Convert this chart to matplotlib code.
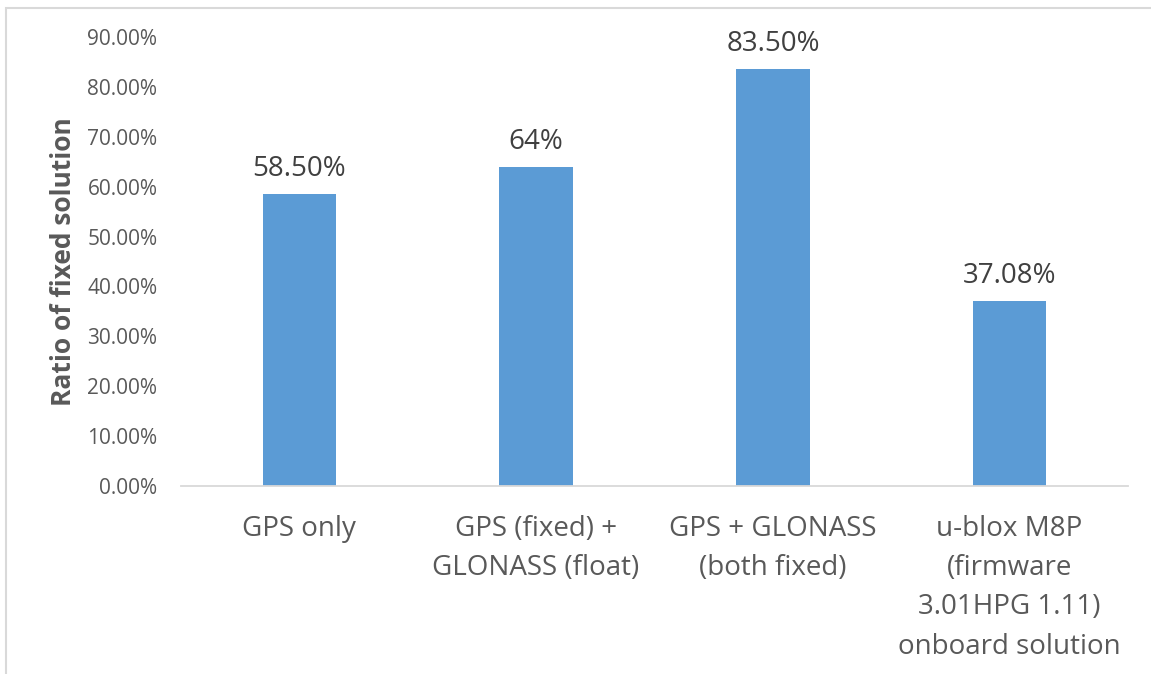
import matplotlib
matplotlib.use("Agg")
import matplotlib.pyplot as plt
from matplotlib.patches import Rectangle

categories = [
    "GPS only",
    "GPS (fixed) +\nGLONASS (float)",
    "GPS + GLONASS\n(both fixed)",
    "u-blox M8P\n(firmware\n3.01HPG 1.11)\nonboard solution",
]
ratios = [58.50, 64.0, 83.50, 37.08]
value_labels = ["58.50%", "64%", "83.50%", "37.08%"]
y_ticks = [0, 10, 20, 30, 40, 50, 60, 70, 80, 90]

plt.rcParams["font.family"] = ["Open Sans", "DejaVu Sans"]
text_color = "#595959"
bar_color = "#5B9BD5"

W, H = 1151, 674
fig = plt.figure(figsize=(W / 100, H / 100), dpi=100)
ax = fig.add_axes([181 / W, 1 - 486 / H, (1128 - 181) / W, (486 - 37) / H])

x = list(range(len(categories)))
ax.bar(x, ratios, width=0.31, color=bar_color, zorder=2)
for xi, v, lab in zip(x, ratios, value_labels):
    ax.text(xi, v + 5.0, lab, ha="center", va="center", fontsize=20, color="#404040")

ax.set_xlim(-0.5, len(categories) - 0.5)
ax.set_ylim(0, 90)
ax.set_yticks(y_ticks)
ax.set_yticklabels([f"{t:.2f}%" for t in y_ticks], fontsize=15, color=text_color)
ax.set_xticks(x)
ax.set_xticklabels(categories, fontsize=20, color=text_color, linespacing=1.53)
ax.tick_params(axis="both", length=0)
ax.tick_params(axis="y", pad=17)
ax.tick_params(axis="x", pad=21)
for side in ["top", "right", "left"]:
    ax.spines[side].set_visible(False)
ax.spines["bottom"].set_color("#D9D9D9")
ax.spines["bottom"].set_linewidth(1.3)

ax.set_ylabel("Ratio of fixed solution", fontsize=19, fontweight="bold",
              color=text_color)
ax.yaxis.set_label_coords(-0.11, 0.5)

# chart-area border
fig.patches.append(Rectangle((6 / W, -0.05), 1.2, 1 - 8 / H + 0.05,
                             transform=fig.transFigure, fill=False,
                             edgecolor="#D9D9D9", linewidth=1.5))

fig.savefig("out.png", dpi=100, facecolor="white")
